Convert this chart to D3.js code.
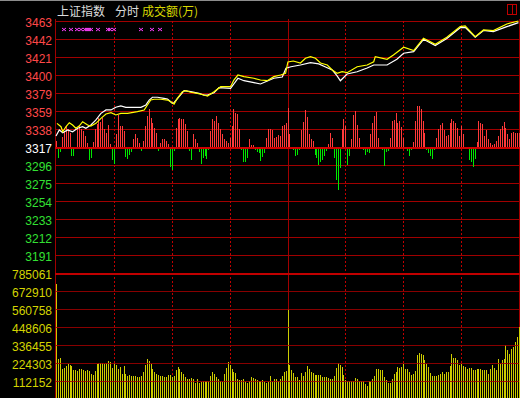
<!DOCTYPE html>
<html>
<head>
<meta charset="utf-8">
<title>上证指数 分时</title>
<script src="https://d3js.org/d3.v7.min.js"></script>
<style>
    body { margin: 0; background: #000; overflow: hidden; }
    svg { display: block; }
    .tick { font-family: "Liberation Sans", Arial, sans-serif; font-size: 12px; }
    .title { font-family: "Noto Sans CJK SC", sans-serif; font-size: 12px; }
</style>
</head>
<body>
<script>
// price axis labels, top to bottom (pre-close 3317 in the middle)
var preClose = 3317;
var priceStep = 20.85;
var priceTicks = ["3463", "3442", "3421", "3400", "3379", "3359", "3338", "3317",
                  "3296", "3275", "3254", "3233", "3212", "3191"];
// turnover axis labels (万), top to bottom
var volMax = 785.061; // thousands of 万
var volTicks = ["785061", "672910", "560758", "448606", "336455", "224303", "112152"];

// index line (white): minute, price
var idxMin = [0, 1.7, 3.5, 6, 8.6, 11.2, 13.8, 15.5, 18.1, 20.7, 23.3, 25.9, 28.5, 31, 33.6, 36.2, 44, 46.6, 48.3, 50,
    52.6, 56, 57.8, 60.3, 61.2, 63.8, 66.4, 69.8, 74.1, 76.7, 78.5, 81.9, 84.5, 90.5, 92.2, 94.3, 97.4, 102.6, 106, 112.9,
    117.3, 119.2, 121.8, 126.7, 131.9, 136.2, 139.7, 143.2, 145.7, 147.4, 150.9, 156.1, 161.3, 164.7, 171.6, 176.7, 180.2, 185.4, 190.5, 196.6,
    202.6, 209.5, 212.1, 217.3, 221.6, 226.7, 233.7, 239.7];
var idxPx = [3329.7, 3336.7, 3333.5, 3336.7, 3334.7, 3338.7, 3340.5, 3338.7, 3342.5, 3348.3, 3356.0, 3359.9, 3359.9, 3363.0, 3364.5, 3363.0, 3363.0, 3365.7, 3371.4, 3374.6,
    3374.6, 3373.4, 3372.6, 3367.6, 3368.3, 3375.3, 3382.2, 3381.1, 3379.2, 3377.2, 3377.2, 3379.9, 3385.7, 3385.0, 3390.0, 3396.6, 3393.8, 3391.5, 3390.0, 3396.6,
    3398.1, 3408.2, 3410.0, 3412.0, 3414.7, 3413.2, 3409.7, 3406.2, 3399.3, 3393.8, 3401.6, 3404.2, 3408.5, 3412.0, 3412.0, 3418.6, 3425.6, 3427.4, 3441.8, 3434.6,
    3442.7, 3455.2, 3455.5, 3444.1, 3452.0, 3450.6, 3456.4, 3461.0];

// yellow line: minute, price
var avgMin = [0.5, 2.6, 3.5, 5.2, 6.9, 8.6, 10.3, 12, 13.8, 16.4, 18.1, 20.7, 23.3, 25.9, 28.5, 31, 33.6, 37.1, 42.2, 45.7,
    47.4, 49.1, 50.9, 54.3, 57.8, 59.5, 61.2, 62.9, 65.5, 67.3, 69.8, 73.3, 76.7, 78.5, 81.9, 85.4, 90.5, 92.2, 94.3, 97.4,
    102.6, 106, 109.5, 112.9, 116.4, 119, 120.2, 123, 126.7, 129.3, 131.9, 134.5, 137.1, 140.6, 143.2, 145.7, 148.3, 150.9, 156.1, 161.3,
    164.7, 165.5, 171.6, 174.9, 180.2, 185.4, 190.5, 196.6, 202.6, 209.5, 212.1, 217.3, 221.6, 226.7, 233.7, 239.7];
var avgPx = [3344.4, 3340.5, 3334.7, 3340.5, 3345.1, 3342.5, 3338.7, 3341.3, 3346.3, 3342.5, 3341.3, 3344.4, 3350.2, 3355.2, 3356.7, 3354.1, 3356.0, 3356.0, 3357.9, 3359.9,
    3365.7, 3371.4, 3372.3, 3372.3, 3371.4, 3369.5, 3366.8, 3373.4, 3381.1, 3382.2, 3380.4, 3379.2, 3377.2, 3376.1, 3381.1, 3386.9, 3386.9, 3394.6, 3400.4, 3398.5,
    3396.6, 3394.6, 3393.8, 3398.5, 3400.4, 3402.4, 3415.5, 3416.6, 3414.3, 3419.8, 3421.6, 3419.8, 3414.3, 3412.0, 3406.2, 3402.4, 3404.2, 3403.1, 3410.0, 3412.0,
    3415.8, 3421.6, 3418.6, 3423.6, 3432.5, 3428.6, 3443.0, 3436.0, 3444.1, 3456.4, 3457.2, 3444.8, 3452.6, 3451.8, 3459.5, 3463.0];

// buy/sell strength bars, one per minute (red up, green down)
var strength = [6, -11, -5, 10, 16, 21, 18, 14, -9, -9,
    -2, 19, 21, 18, 16, 11, 4, -13, -11, 5,
    18, 23, 29, 25, 29, 18, 14, 22, 3, -13,
    -17, 13, 32, 21, 21, 16, -10, -12, -8, -5,
    8, 13, 9, 4, -4, 6, 21, 31, 38, 29,
    24, 19, 14, -4, 4, 8, 8, 6, 3, -20,
    -23, -4, 19, 28, 29, 28, 28, 23, 16, -4,
    -13, 13, 8, 4, -5, -17, -11, -9, -12, -3,
    16, 28, 26, 31, 24, 18, 13, 8, 6, 4,
    9, 21, 38, 34, 33, 18, -3, -15, -15, -11,
    8, 2, 2, -3, -5, -6, -14, -10, -6, 9,
    18, 18, 17, 9, 10, 12, 11, 21, 22, 24,
    39, 13, 0, -3, -9, -8, -3, 17, 25, 37,
    30, 13, 8, 6, -8, -11, -18, -15, -13, -9,
    -4, 3, 14, 9, -11, -33, -43, -21, 18, 28,
    21, -18, -9, 8, 32, 36, 22, 9, 0, -3,
    -8, -5, -6, 13, 24, 31, 35, 9, 0, -3,
    -19, -5, -4, 9, 26, 27, 34, 24, 26, 20,
    9, 0, -4, -9, -3, 5, 26, 41, 41, 38,
    26, 14, -3, -6, -9, -12, -3, 9, 18, 22,
    24, 17, 11, 12, 24, 28, 26, 24, 19, 11,
    21, 13, 0, 0, -13, -15, -20, -12, 5, 26,
    24, 23, 11, 17, 8, 4, 2, 3, 6, 11,
    18, 21, 25, 19, 13, 8, 14, 15, 14, 14,
    14];

// turnover per minute, thousands of 万
var volume = [716, 247, 253, 187, 195, 206, 218, 212, 206, 181,
    181, 177, 187, 187, 181, 177, 181, 174, 156, 150,
    174, 218, 222, 222, 222, 218, 222, 235, 231, 191,
    222, 212, 187, 197, 156, 206, 156, 143, 148, 143,
    143, 143, 139, 135, 143, 170, 212, 247, 239, 218,
    187, 170, 156, 150, 145, 143, 139, 139, 148, 150,
    135, 143, 181, 197, 187, 170, 156, 135, 127, 125,
    131, 127, 98, 123, 102, 108, 112, 112, 112, 114,
    143, 168, 158, 135, 123, 112, 108, 156, 195, 231,
    212, 187, 170, 160, 127, 118, 118, 123, 108, 98,
    110, 135, 131, 127, 118, 112,
    114, 118, 106, 98, 108, 143, 108, 125, 125, 112,
    125, 143, 170, 177, 559, 212, 181, 164, 139, 137,
    118, 164, 143, 170, 206, 189, 170, 162, 150, 150,
    150, 150, 139, 135, 135, 129, 125, 125, 143, 195,
    224, 212, 197, 150, 118, 112, 112, 112, 112, 129,
    125, 112, 112, 112, 93, 81, 112, 108, 125, 143,
    187, 187, 181, 181, 139, 118, 102, 102, 125, 156,
    168, 197, 193, 199, 220, 187, 187, 168, 150, 156,
    174, 274, 287, 280, 274, 243, 218, 199, 160, 143,
    143, 143, 150, 156, 168, 156, 168, 168, 206, 280,
    255, 255, 243, 212, 218, 206, 199, 187, 193, 193,
    181, 181, 187, 187, 187, 181, 181, 181, 156, 187,
    212, 193, 181, 249, 218, 243, 249, 336, 305, 280,
    312, 324, 355, 386, 450];

// minutes with magenta markers
var marks = [4, 8, 11, 13, 15, 16, 17, 18, 22, 27, 28, 30, 44, 50, 54];

var width = 520;
var height = 398;
var gridRed = "#a00000";

var svg = d3.select("body")
    .append("svg")
    .attr("width", width)
    .attr("height", height)
    .style("background", "#000");

var x = d3.scaleLinear().domain([0, 240]).range([56, 519]);
var y = d3.scaleLinear()
    .domain([preClose - 6 * priceStep, preClose + 7 * priceStep])
    .range([255, 21]);
var vy = d3.scaleLinear().domain([0, volMax]).range([399, 273]);
var barH = d3.scaleLinear().domain([0, 40]).range([0, 40]);

function px(v) { return Math.round(v) + 0.5; }

// top strip and title
svg.append("rect").attr("x", 0).attr("y", 0).attr("width", width).attr("height", 1).attr("fill", "#8c8c8c");
svg.append("text").attr("class", "title").attr("x", 57).attr("y", 16).attr("fill", "#dcdcdc").text("上证指数");
svg.append("text").attr("class", "title").attr("x", 115).attr("y", 16).attr("fill", "#dcdcdc").text("分时");
svg.append("text").attr("class", "title").attr("x", 142).attr("y", 16).attr("fill", "#d8d800").text("成交额(万)");

// little window icon
svg.append("rect").attr("x", 507.5).attr("y", 4.5).attr("width", 9).attr("height", 10)
    .attr("fill", "none").attr("stroke", "#c00000");
svg.append("line").attr("x1", 512.5).attr("x2", 512.5).attr("y1", 4.5).attr("y2", 14.5).attr("stroke", "#c00000");

var grid = svg.append("g").attr("shape-rendering", "crispEdges");
var bars = svg.append("g").attr("shape-rendering", "crispEdges");
var over = svg.append("g").attr("shape-rendering", "crispEdges");

// price gridlines + labels
var priceLevels = priceTicks.map(function(t, i) { return preClose + (7 - i) * priceStep; });
grid.selectAll("line.hp")
    .data(priceLevels)
    .enter()
    .append("line")
    .attr("x1", 55).attr("x2", 519)
    .attr("y1", function(d) { return px(y(d)); })
    .attr("y2", function(d) { return px(y(d)); })
    .attr("stroke", gridRed);

svg.selectAll("text.pl")
    .data(priceTicks)
    .enter()
    .append("text")
    .attr("class", "tick")
    .attr("x", 52)
    .attr("y", function(d, i) { return y(priceLevels[i]) + 6; })
    .attr("text-anchor", "end")
    .attr("fill", function(d, i) { return i < 7 ? "#ff4848" : (i == 7 ? "#ffffff" : "#33e033"); })
    .text(function(d) { return d; });

// volume gridlines + labels
var volLevels = volTicks.map(function(t, i) { return volMax * (7 - i) / 7; });
svg.selectAll("text.vl")
    .data(volTicks)
    .enter()
    .append("text")
    .attr("class", "tick")
    .attr("x", 52)
    .attr("y", function(d, i) { return vy(volLevels[i]) + 6; })
    .attr("text-anchor", "end")
    .attr("fill", "#d4d400")
    .text(function(d) { return d; });

// vertical grid: every 30 minutes
var halfHours = [30, 60, 90, 150, 180, 210];
grid.selectAll("line.vd")
    .data(halfHours)
    .enter()
    .append("line")
    .attr("x1", function(d) { return px(x(d)); })
    .attr("x2", function(d) { return px(x(d)); })
    .attr("y1", 21).attr("y2", height)
    .attr("stroke", "#c00000")
    .attr("stroke-dasharray", "2,2");

[55, px(x(120)) - 0.5, 519].forEach(function(v) {
    grid.append("line")
        .attr("x1", v + 0.5).attr("x2", v + 0.5)
        .attr("y1", 19).attr("y2", height)
        .attr("stroke", gridRed);
});

// volume bars
bars.selectAll("rect.vol")
    .data(volume)
    .enter()
    .append("rect")
    .attr("x", function(d, i) { return Math.round(x(i)); })
    .attr("width", 1)
    .attr("y", function(d) { return vy(d); })
    .attr("height", function(d) { return vy(0) - vy(d); })
    .attr("fill", "#cccc00");

// strength bars around pre-close line
var base = Math.round(y(preClose));
bars.selectAll("rect.str")
    .data(strength)
    .enter()
    .append("rect")
    .attr("x", function(d, i) { return Math.round(x(i)); })
    .attr("width", 1)
    .attr("y", function(d) { return d > 0 ? base - barH(d) : base; })
    .attr("height", function(d) { return barH(Math.abs(d)); })
    .attr("fill", function(d) { return d > 0 ? "#ff3a3a" : "#00e800"; });

// volume gridlines drawn over bars
over.selectAll("line.hv")
    .data(volLevels.slice(1))
    .enter()
    .append("line")
    .attr("x1", 55).attr("x2", 519)
    .attr("y1", function(d) { return px(vy(d)); })
    .attr("y2", function(d) { return px(vy(d)); })
    .attr("stroke", gridRed)
    .attr("stroke-opacity", 0.85);

// heavy rules: pre-close and top of volume pane
over.append("rect").attr("x", 55).attr("y", base).attr("width", 465).attr("height", 2).attr("fill", "#d00000");
over.append("rect").attr("x", 55).attr("y", Math.round(vy(volMax))).attr("width", 465).attr("height", 2).attr("fill", "#c00000");

// price lines
var line = d3.line()
    .x(function(d) { return x(d[0]); })
    .y(function(d) { return y(d[1]); });

svg.append("path")
    .datum(idxMin.map(function(m, i) { return [m, idxPx[i]]; }))
    .attr("d", line)
    .attr("fill", "none")
    .attr("stroke", "#ffffff")
    .attr("stroke-width", 1.2);

svg.append("path")
    .datum(avgMin.map(function(m, i) { return [m, avgPx[i]]; }))
    .attr("d", line)
    .attr("fill", "none")
    .attr("stroke", "#ffff00")
    .attr("stroke-width", 1.2);

// magenta markers
svg.selectAll("path.mk")
    .data(marks)
    .enter()
    .append("path")
    .attr("transform", function(d) { return "translate(" + Math.round(x(d)) + ",29.5)"; })
    .attr("d", "M-2,-1.5L2,1.5M-2,1.5L2,-1.5")
    .attr("stroke", "#ff40ff")
    .attr("stroke-width", 1);
</script>
</body>
</html>
